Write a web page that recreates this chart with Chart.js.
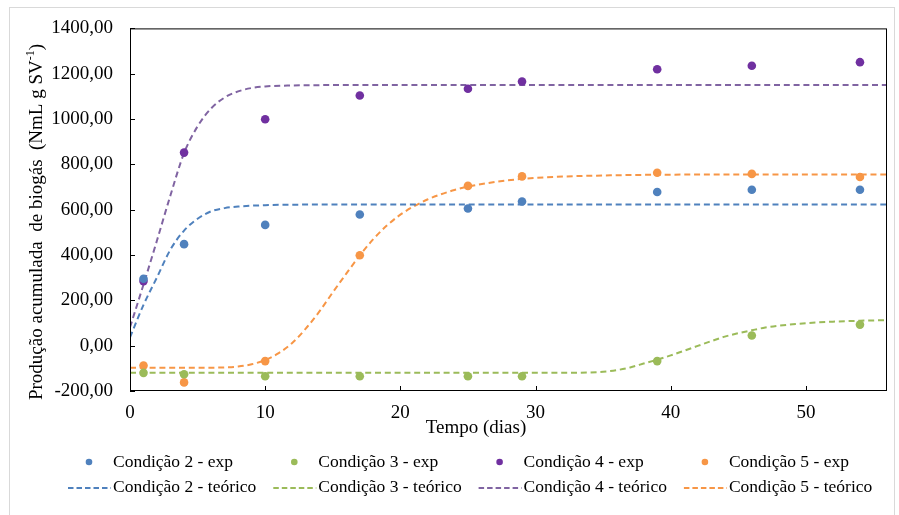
<!DOCTYPE html>
<html>
<head>
<meta charset="utf-8">
<script src="https://cdn.jsdelivr.net/npm/chart.js@4"></script>
<style>
  body { margin: 0; background: #fff; }
  #wrap { position: relative; width: 899px; height: 515px; }
  #frame { position: absolute; left: 9px; top: 7px; width: 886px; height: 520px; border: 1px solid #d9d9d9; box-sizing: border-box; }
</style>
</head>
<body>
<div id="wrap">
  <div id="frame"></div>
  <canvas id="chart"></canvas>
</div>
<script>
// experimental points (days)
const days = [1, 4, 10, 17, 25, 29, 39, 46, 54];
const exp2 = [295, 448, 533, 579, 605, 636, 678, 688, 688];
const exp3 = [-120, -126, -135, -135, -135, -135, -68, 45, 93];
const exp4 = [285, 852, 999, 1104, 1134, 1166, 1220, 1235, 1251];
const exp5 = [-88, -162, -68, 399, 705, 747, 763, 758, 744];

// fitted curves
const teoDays2 = [0, 1, 2, 3, 4, 5, 6, 7, 8, 10, 12, 15, 56];
const teo2 = [37, 180, 302, 425, 508, 560, 593, 607, 614, 620, 622, 623, 623];
const teoDays3 = [0, 32, 34, 35, 36, 37, 38, 39, 40, 41, 42, 43, 44, 45, 46, 47, 48, 50, 52, 54, 56];
const teo3 = [-120, -120, -118, -115, -108, -96, -79, -62, -43, -22, -1, 20, 40, 55, 68, 80, 88, 99, 106, 110, 113];
const teoDays4 = [0, 1, 2, 3, 4, 5, 6, 7, 8, 9, 10, 12, 16, 56];
const teo4 = [81, 270, 465, 665, 850, 968, 1047, 1095, 1122, 1137, 1144, 1148, 1150, 1150];
const teoDays5 = [0, 6, 7, 8, 9, 10, 11, 12, 13, 14, 15, 16, 17, 18, 19, 20, 21, 22, 23, 24, 25, 27, 29, 32, 36, 42, 56];
const teo5 = [-97, -97, -96, -92, -82, -63, -33, 12, 75, 150, 235, 318, 398, 470, 530, 578, 615, 645, 668, 687, 702, 722, 736, 746, 752, 755, 755];

const yTicks = [-200, 0, 200, 400, 600, 800, 1000, 1200, 1400];
const xTicks = [0, 10, 20, 30, 40, 50];

const labels = ['Condição 2', 'Condição 3', 'Condição 4', 'Condição 5'];
const pointColors = ['#4f81bd', '#9bbb59', '#7030a0', '#f79646'];
const lineColors = ['#4f81bd', '#9bbb59', '#8064a2', '#f79646'];

const FONT = '"Liberation Serif", "Times New Roman", serif';

const pts = (xs, ys) => xs.map((x, i) => ({ x: x, y: ys[i] }));
const expSets = [exp2, exp3, exp4, exp5];
const teoSets = [[teoDays2, teo2], [teoDays3, teo3], [teoDays4, teo4], [teoDays5, teo5]];

const datasets = [];
expSets.forEach((ys, i) => {
    datasets.push({
        label: labels[i] + ' - exp',
        type: 'scatter',
        data: pts(days, ys),
        backgroundColor: pointColors[i],
        borderColor: pointColors[i],
        pointRadius: 4.3,
        pointBorderWidth: 0,
        order: 1
    });
});
teoSets.forEach((t, i) => {
    datasets.push({
        label: labels[i] + ' - teórico',
        type: 'line',
        data: pts(t[0], t[1]),
        borderColor: lineColors[i],
        borderWidth: 2,
        borderDash: [6, 3.8],
        pointRadius: 0,
        cubicInterpolationMode: 'monotone',
        fill: false,
        order: 2
    });
});

// box, inward ticks, axis titles and the two-row legend
const decor = {
    id: 'decor',
    afterDraw(chart) {
        const ctx = chart.ctx;
        const a = chart.chartArea;
        const xs = chart.scales.x, ys = chart.scales.y;
        ctx.save();
        ctx.strokeStyle = '#000';
        ctx.lineWidth = 1;
        ctx.setLineDash([]);
        ctx.strokeRect(a.left + 0.5, a.top + 0.5, a.right - a.left - 1, a.bottom - a.top - 1);
        ctx.beginPath();
        yTicks.forEach(v => {
            const y = Math.round(ys.getPixelForValue(v)) + 0.5;
            ctx.moveTo(a.left, y); ctx.lineTo(a.left + 5, y);
        });
        xTicks.forEach(v => {
            const x = Math.round(xs.getPixelForValue(v)) + 0.5;
            ctx.moveTo(x, a.bottom); ctx.lineTo(x, a.bottom - 5);
        });
        ctx.stroke();

        ctx.fillStyle = '#000';
        ctx.font = '19px ' + FONT;
        ctx.textAlign = 'center';
        ctx.textBaseline = 'middle';
        ctx.fillText('Tempo (dias)', a.left + 346, 428);

        // y title with superscript
        const main = 'Produção acumulada  de biogás  (NmL g SV';
        ctx.font = '19px ' + FONT;
        const w1 = ctx.measureText(main).width;
        const w3 = ctx.measureText(')').width;
        ctx.font = '12px ' + FONT;
        const w2 = ctx.measureText('-1').width;
        const total = w1 + w2 + w3;
        ctx.translate(37, 222);
        ctx.rotate(-Math.PI / 2);
        ctx.textAlign = 'left';
        ctx.textBaseline = 'middle';
        ctx.font = '19px ' + FONT;
        ctx.fillText(main, -total / 2, 0);
        ctx.font = '12px ' + FONT;
        ctx.fillText('-1', -total / 2 + w1, -6);
        ctx.font = '19px ' + FONT;
        ctx.fillText(')', -total / 2 + w1 + w2, 0);
        ctx.restore();

        // legend
        ctx.save();
        ctx.font = '17.5px ' + FONT;
        ctx.textAlign = 'left';
        ctx.textBaseline = 'middle';
        chart.data.datasets.forEach((ds, i) => {
            const col = i % 4, row = Math.floor(i / 4);
            const tx = 113 + col * 205.3;
            const ty = 462 + row * 25.5;
            if (ds.type === 'scatter') {
                ctx.fillStyle = ds.backgroundColor;
                ctx.beginPath();
                ctx.arc(tx - 24, ty, 3.3, 0, Math.PI * 2);
                ctx.fill();
            } else {
                ctx.strokeStyle = ds.borderColor;
                ctx.lineWidth = 2;
                ctx.setLineDash([5.5, 3]);
                ctx.beginPath();
                ctx.moveTo(tx - 45, ty + 0.5);
                ctx.lineTo(tx - 2, ty + 0.5);
                ctx.stroke();
                ctx.setLineDash([]);
            }
            ctx.fillStyle = '#000';
            ctx.fillText(ds.label, tx, ty);
        });
        ctx.restore();
    }
};

new Chart(document.getElementById('chart'), {
    type: 'line',
    data: { datasets: datasets },
    options: {
        responsive: true,
        maintainAspectRatio: false,
        animation: false,
        layout: { padding: { top: 26, right: 12, left: 0, bottom: 0 } },
        plugins: {
            legend: { display: false },
            tooltip: { enabled: false }
        },
        scales: {
            x: {
                type: 'linear',
                min: 0,
                max: 56,
                grid: { display: false, drawTicks: false },
                border: { display: false },
                ticks: {
                    stepSize: 10,
                    includeBounds: false,
                    maxRotation: 0,
                    padding: 11,
                    color: '#000',
                    font: { family: FONT, size: 19 }
                },
                afterFit(s) { s.height = 124; }
            },
            y: {
                min: -200,
                max: 1400,
                grid: { display: false, drawTicks: false },
                border: { display: false },
                ticks: {
                    stepSize: 200,
                    padding: 17,
                    color: '#000',
                    font: { family: FONT, size: 19 },
                    callback: v => v.toFixed(2).replace('.', ',')
                },
                afterFit(s) { s.width = 130; }
            }
        }
    },
    plugins: [decor]
});
</script>
</body>
</html>
